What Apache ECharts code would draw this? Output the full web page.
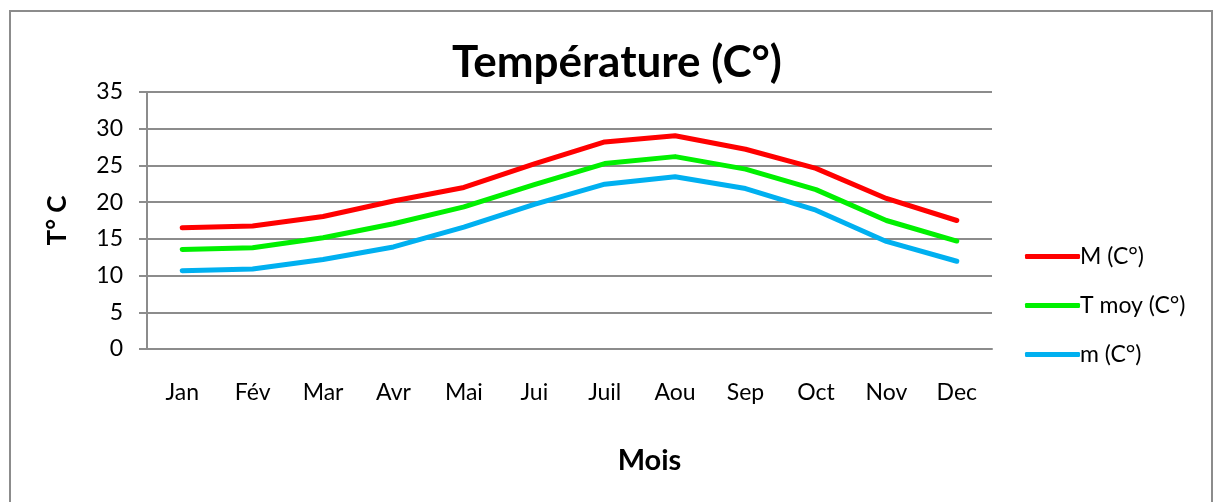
<!DOCTYPE html>
<html>
<head>
<meta charset="utf-8">
<script src="https://cdn.jsdelivr.net/npm/echarts@6/dist/echarts.min.js"></script>
<style>
  html, body { margin: 0; padding: 0; background: #fff; }
  #wrap { position: relative; width: 1218px; height: 502px; overflow: hidden; }
  #frame { position: absolute; left: 9px; top: 10px; width: 1204px; height: 520px; border: 2px solid #8c8c8c; box-sizing: border-box; }
  #chart { position: absolute; left: 0; top: 0; width: 1218px; height: 502px; }
</style>
</head>
<body>
<div id="wrap">
  <div id="frame"></div>
  <div id="chart"></div>
</div>
<script>
// données
const mois = ["Jan", "Fév", "Mar", "Avr", "Mai", "Jui", "Juil", "Aou", "Sep", "Oct", "Nov", "Dec"];
const tMax = [16.5, 16.75, 18.05, 20.15, 22.0, 25.2, 28.2, 29.05, 27.2, 24.6, 20.5, 17.5];
const tMoy = [13.55, 13.8, 15.15, 17.05, 19.35, 22.4, 25.25, 26.2, 24.5, 21.7, 17.5, 14.7];
const tMin = [10.65, 10.9, 12.2, 13.9, 16.6, 19.7, 22.45, 23.45, 21.85, 18.9, 14.65, 11.95];
const seriesNames = ["M (C°)", "T moy (C°)", "m (C°)"];
const colors = ["#ff0000", "#00f000", "#00b0f0"];

const font = "Lato, 'Open Sans', sans-serif";
const gridColor = "#8c8c8c";

function lineSerie(name, data, color) {
  return {
    name: name,
    type: "line",
    data: data,
    symbol: "none",
    smooth: false,
    lineStyle: { color: color, width: 5, cap: "round", join: "round" },
    itemStyle: { color: color },
  };
}

const chart = echarts.init(document.getElementById("chart"));
chart.setOption({
  animation: false,
  title: {
    text: "Température (C°)",
    left: 612,
    top: 36,
    textAlign: "center",
    textStyle: { fontFamily: font, fontSize: 44, fontWeight: "bold", color: "#000" },
  },
  legend: {
    orient: "vertical",
    left: 1020,
    top: 239,
    itemWidth: 55,
    itemHeight: 5,
    itemGap: 24,
    icon: "roundRect",
    textStyle: { fontFamily: font, fontSize: 23, color: "#000", lineHeight: 25, padding: [0, 0, 0, -5] },
    data: seriesNames,
  },
  grid: { left: 147, right: 226, top: 92, bottom: 153, containLabel: false },
  xAxis: {
    type: "category",
    data: mois,
    boundaryGap: true,
    name: "Mois",
    nameLocation: "middle",
    nameGap: 97,
    nameTextStyle: { fontFamily: font, fontSize: 29, fontWeight: "bold", color: "#000", padding: [0, 0, 0, 160] },
    axisLine: { lineStyle: { color: gridColor, width: 2 } },
    axisTick: { show: false },
    axisLabel: { fontFamily: font, fontSize: 23, color: "#000", margin: 32 },
  },
  yAxis: {
    type: "value",
    min: 0,
    max: 35,
    interval: 5,
    name: "T° C",
    nameLocation: "middle",
    nameGap: 76,
    nameRotate: 90,
    nameTextStyle: { fontFamily: font, fontSize: 26, fontWeight: "bold", color: "#000" },
    axisLine: { show: true, lineStyle: { color: gridColor, width: 2 } },
    axisTick: { show: true, length: 8, lineStyle: { color: gridColor, width: 2 } },
    axisLabel: { fontFamily: font, fontSize: 23, color: "#000", margin: 24 },
    splitLine: { show: true, lineStyle: { color: gridColor, width: 2 } },
  },
  series: [
    lineSerie(seriesNames[0], tMax, colors[0]),
    lineSerie(seriesNames[1], tMoy, colors[1]),
    lineSerie(seriesNames[2], tMin, colors[2]),
  ],
});
</script>
</body>
</html>
